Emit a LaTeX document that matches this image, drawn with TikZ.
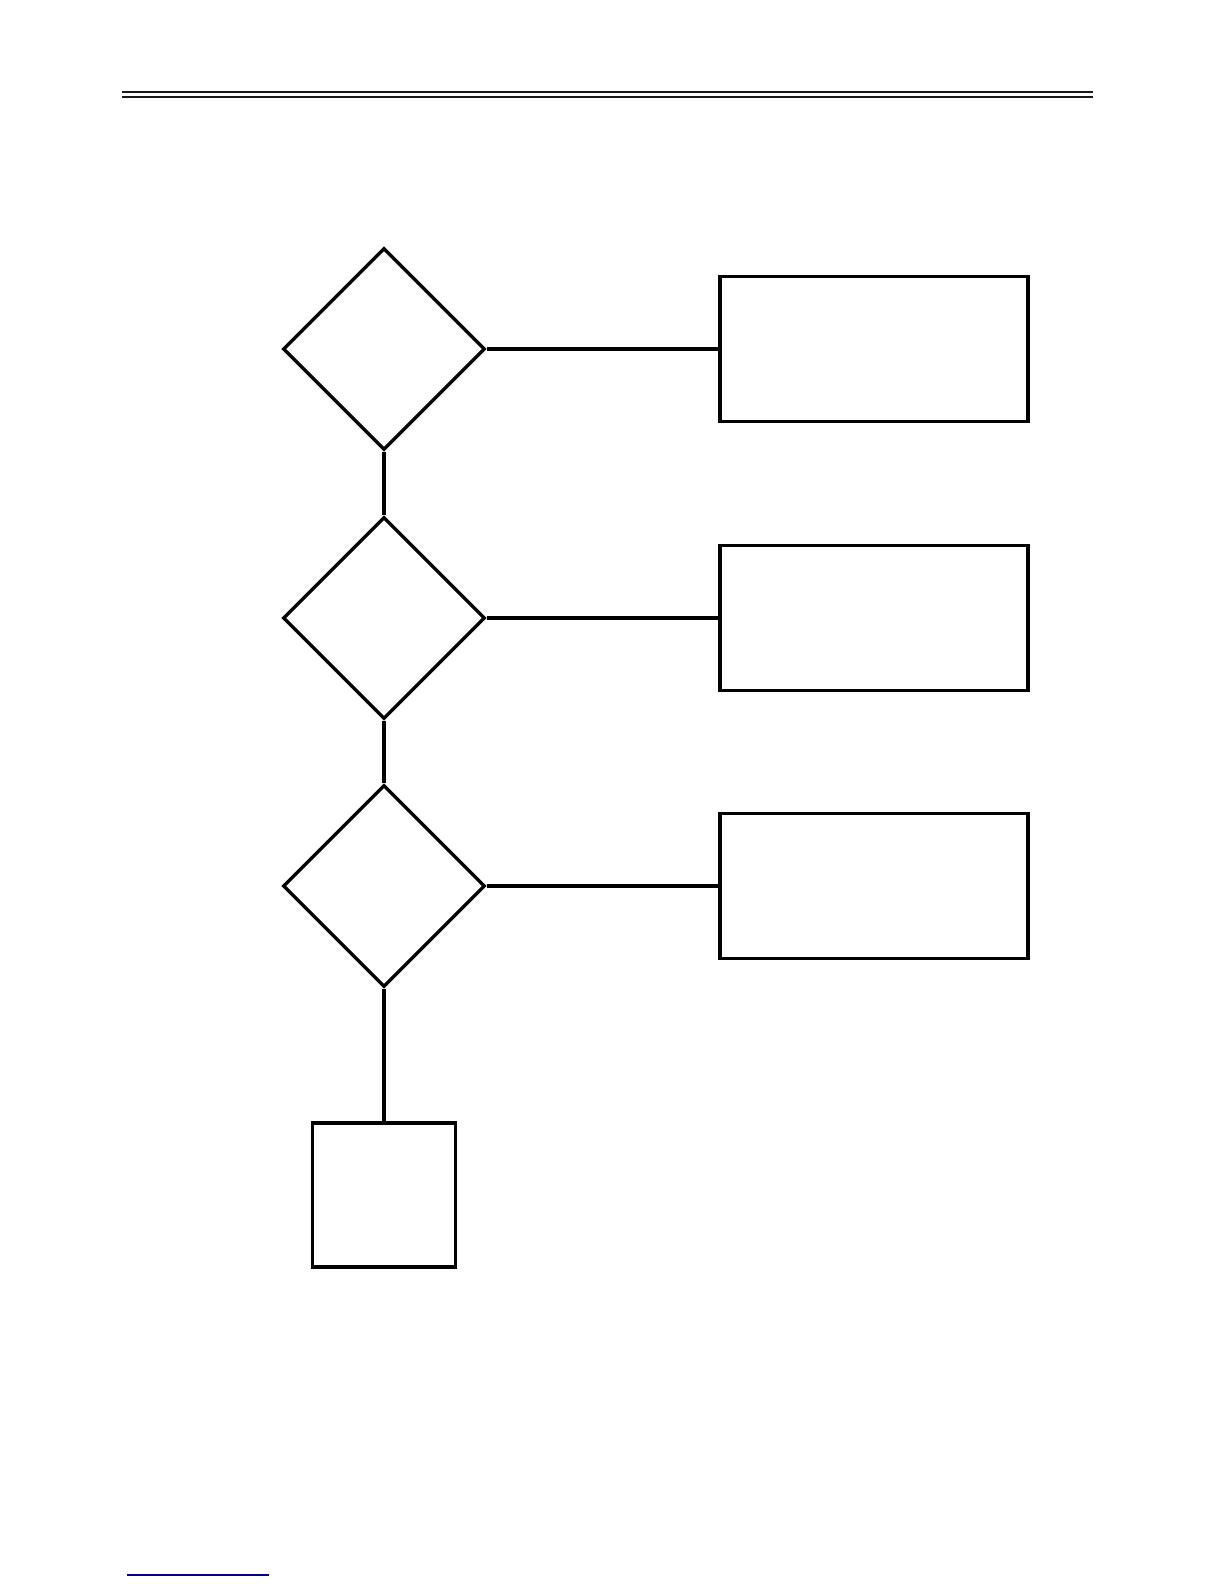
\documentclass[tikz,border=0pt]{standalone}
\usepackage{tikz}
\usetikzlibrary{shapes.geometric}
\usetikzlibrary{positioning}

\begin{document}
\begin{tikzpicture}[x=0.5pt, y=-0.5pt, line width=1.7pt,
    test/.style={draw, diamond, aspect=1, inner sep=0pt, minimum width=101pt, minimum height=101pt},
    action/.style={draw, rectangle, inner sep=0pt, minimum width=154pt, minimum height=72.5pt},
    stopbox/.style={draw, rectangle, inner sep=0pt, minimum width=71.5pt, minimum height=72pt}]
        % Page
        \useasboundingbox (0,0) rectangle (1224,1584);

        % Positions
        \def\xt{384}
        \def\xr{874}
        \def\ya{349}
        \def\yb{618}
        \def\yc{886}

        % Double rule
        \draw[line width=1pt, black!90] (122,92) -- (1093,92);
        \draw[line width=1pt, black!90] (122,97) -- (1093,97);

        % Tests
        \node[test] (t1) at (\xt,\ya) {};
        \node[test] (t2) at (\xt,\yb) {};
        \node[test] (t3) at (\xt,\yc) {};

        % Actions
        \node[action] (a1) at (\xr,\ya) {};
        \node[action] (a2) at (\xr,\yb) {};
        \node[action] (a3) at (\xr,\yc) {};

        % End
        \node[stopbox] (e) at (\xt,1195) {};

        % Links
        \draw (t1.east) -- (a1.west);
        \draw (t2.east) -- (a2.west);
        \draw (t3.east) -- (a3.west);
        \draw (t1.south) -- (t2.north);
        \draw (t2.south) -- (t3.north);
        \draw (t3.south) -- (e.north);

        % Footnote rule
        \draw[line width=0.7pt, blue!55!black] (127,1575) -- (269,1575);
    \end{tikzpicture}
\end{document}
